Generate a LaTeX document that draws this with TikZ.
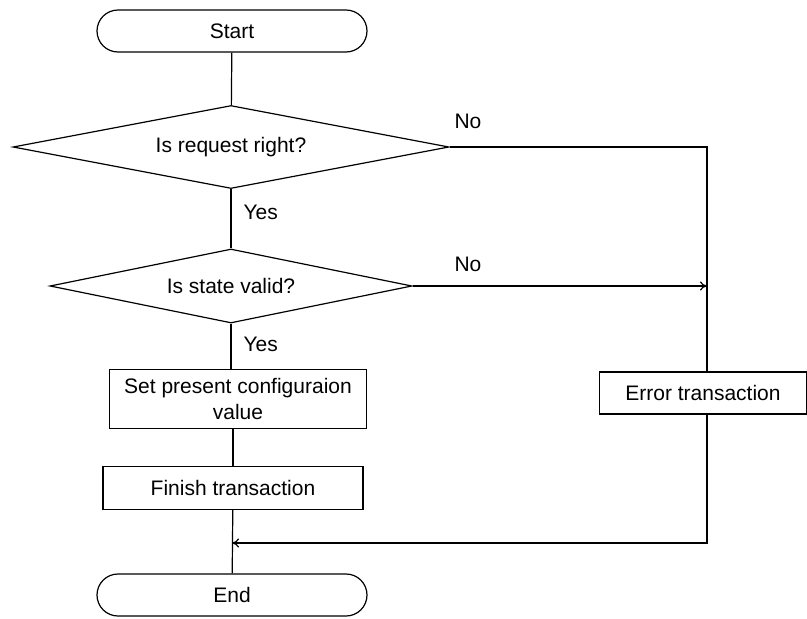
\documentclass[tikz,border=0pt]{standalone}
\usepackage{fontspec}
\setmainfont{Liberation Sans}
\usetikzlibrary{arrows.meta,positioning,shapes.geometric}

\begin{document}
\begin{tikzpicture}[x=1pt,y=-1pt,>={To[length=7pt,width=9pt]},line width=1.2pt,
  font=\fontsize{21}{26}\selectfont,
  term/.style={draw,rectangle,rounded corners=21pt,minimum width=270pt,minimum height=42pt,inner sep=0pt},
  test/.style={draw,diamond,inner sep=0pt},
  proc/.style={draw,rectangle,minimum height=43pt,inner sep=2pt,align=center},
  lbl/.style={inner sep=0pt}]
\useasboundingbox (0,0) rectangle (807,619);
% boxes of the flow
\node[term] (start) at (232,31) {Start};
\node[test,aspect=5.25,minimum width=436pt,minimum height=83pt] (q1) at (231,147) {Is request right?};
\node[test,aspect=4.9,minimum width=362pt,minimum height=74pt] (q2) at (231,286) {Is state valid?};
\node[proc,minimum width=257pt,minimum height=59pt] (set) at (238,399) {Set present configuraion\\value};
\node[proc,minimum width=260pt] (finish) at (233,488) {Finish transaction};
\node[proc,minimum width=207pt,minimum height=42pt] (err) at (703,393) {Error transaction};
\node[term] (end) at (232,595) {End};
% labels
\node[lbl,anchor=west] (yes1) at (243,212) {Yes};
\node[lbl,anchor=west] (yes2) at (243,344) {Yes};
\node[lbl] (no1) at (468,121) {No};
\node[lbl] (no2) at (468,264) {No};
\coordinate (rt) at (707,147);
\coordinate (back) at (232,543);
% connectors
\draw (start) -- (q1);
\draw (q1) -- (q2);
\draw (q2) -- (set.north -| q2.south);
\draw (set.south -| finish.north) -- (finish);
\draw (finish) -- (end);
\draw (q1.east) -- (rt) -- (rt |- err.north);
\draw[->] (q2.east) -- (rt |- q2.east);
\draw[->] (rt |- err.south) |- (back);
\end{tikzpicture}
\end{document}
